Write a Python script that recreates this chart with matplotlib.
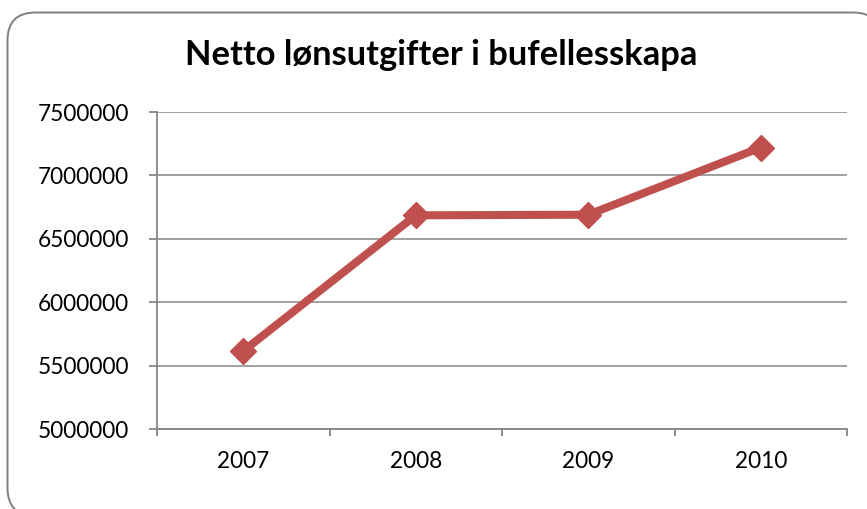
import matplotlib
matplotlib.use("Agg")
import matplotlib.pyplot as plt
from matplotlib.patches import FancyBboxPatch
from matplotlib.transforms import IdentityTransform

years = ["2007", "2008", "2009", "2010"]
values = [5615000, 6685000, 6690000, 7220000]
yticks = [5000000, 5500000, 6000000, 6500000, 7000000, 7500000]
title = "Netto lønsutgifter i bufellesskapa"

W, H = 867, 509
fig = plt.figure(figsize=(W / 100, H / 100), dpi=100)
fig.patch.set_facecolor("white")

# rounded chart frame (pixel coordinates, y from bottom)
fx0, fy0, fx1, fy1 = 7.5, 12.5, 881, 516
frame = FancyBboxPatch((fx0, H - fy1), fx1 - fx0, fy1 - fy0,
                       boxstyle="round,pad=0,rounding_size=28",
                       transform=IdentityTransform(), facecolor="white",
                       edgecolor="#7f7f7f", linewidth=1.4, zorder=-5)
fig.patches.append(frame)

left, right, top, bottom = 157, 847, 112, 429
ax = fig.add_axes([left / W, 1 - bottom / H, (right - left) / W, (bottom - top) / H])
ax.set_facecolor("none")
ax.set_zorder(2)

font = "Lato"
x = list(range(len(years)))
ax.plot(x, values, color="#C0504D", linewidth=5.8, marker="D", markersize=13,
        markerfacecolor="#C0504D", markeredgecolor="#C0504D", solid_joinstyle="miter",
        zorder=3)

ax.set_xlim(-0.5, len(years) - 0.5)
ax.set_ylim(yticks[0], yticks[-1])
ax.set_yticks(yticks)
ax.set_yticklabels([str(v) for v in yticks], fontsize=16.3, family=font)
ax.set_xticks([i - 0.5 for i in range(len(years) + 1)])
ax.set_xticklabels([])
ax.set_xticks(x, minor=True)
ax.set_xticklabels(years, minor=True, fontsize=16.3, family=font)
ax.tick_params(axis="x", which="minor", length=0, pad=16)
ax.tick_params(axis="x", which="major", length=5, color="#868686", width=1.3, direction="out")
ax.tick_params(axis="y", length=6, color="#868686", width=1.3, direction="out", pad=14)

ax.grid(axis="y", color="#868686", linewidth=1.1)
ax.set_axisbelow(True)
for s in ["top", "right"]:
    ax.spines[s].set_visible(False)
for s in ["left", "bottom"]:
    ax.spines[s].set_color("#868686")
    ax.spines[s].set_linewidth(1.3)

fig.text(441 / W, 1 - 55 / H, title, ha="center", va="center", fontsize=24.8,
         fontweight="bold", family=font, zorder=3)

fig.savefig("out.png", dpi=100)
